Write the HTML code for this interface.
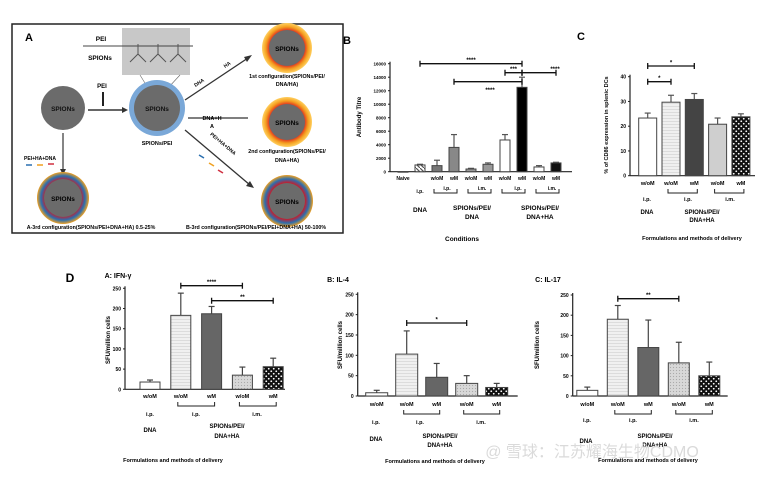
<!DOCTYPE html>
<html><head><meta charset="utf-8">
<style>
html,body{margin:0;padding:0;background:#fff}
svg{display:block;font-family:"Liberation Sans","Noto Sans CJK SC",sans-serif;font-weight:bold}
</style></head>
<body>
<svg id="fig" width="775" height="477" viewBox="0 0 775 477" xmlns="http://www.w3.org/2000/svg">
<defs>
<pattern id="pLines" width="4" height="3" patternUnits="userSpaceOnUse"><rect width="4" height="3" fill="#f0f0f0"/><line x1="0" y1="1.5" x2="4" y2="1.5" stroke="#cfcfcf" stroke-width="0.6"/></pattern>
<pattern id="pDots" width="3" height="3" patternUnits="userSpaceOnUse"><rect width="3" height="3" fill="#d8d8d8"/><circle cx="1.5" cy="1.5" r="0.6" fill="#aaa"/></pattern>
<pattern id="pCheck" width="5" height="5" patternUnits="userSpaceOnUse"><rect width="5" height="5" fill="#111"/><circle cx="1.25" cy="1.25" r="0.9" fill="#fff"/><circle cx="3.75" cy="3.75" r="0.9" fill="#fff"/></pattern>
<pattern id="pHatch" width="4" height="4" patternUnits="userSpaceOnUse"><rect width="4" height="4" fill="#fff"/><line x1="0" y1="0" x2="4" y2="4" stroke="#555" stroke-width="1.2"/></pattern>
<radialGradient id="gRed"><stop offset="0.7" stop-color="#e03020"/><stop offset="0.85" stop-color="#f5a020"/><stop offset="1" stop-color="#ffd060"/></radialGradient>
<radialGradient id="gMix"><stop offset="0.7" stop-color="#c02030"/><stop offset="0.85" stop-color="#2a6fb0"/><stop offset="1" stop-color="#f0a020"/></radialGradient>
</defs>

<g>
<rect x="12" y="24" width="331" height="209" fill="#fff" stroke="#222" stroke-width="1.5"/>
<text x="25" y="41" font-size="11">A</text>
<rect x="122" y="28" width="68" height="47" fill="#c8c8c8"/>
<line x1="83" y1="46" x2="193" y2="46" stroke="#444" stroke-width="1"/>
<text x="101" y="41" font-size="6.5" text-anchor="middle">PEI</text>
<text x="100" y="60" font-size="6.5" text-anchor="middle">SPIONs</text>
<g stroke="#555" stroke-width="1" fill="none"><path d="M130 62 l8-8 l8 8 M138 54 v-10 M150 62 l8-8 l8 8 M158 54 v-10 M170 62 l8-8 l8 8 M178 54 v-10"/></g>
<line x1="140" y1="75" x2="148" y2="88" stroke="#666" stroke-width="0.6"/><line x1="180" y1="75" x2="168" y2="88" stroke="#666" stroke-width="0.6"/>
<circle cx="63" cy="108" r="22" fill="#6b6b6b"/>
<text x="63" y="111" font-size="6.5" text-anchor="middle" fill="#111">SPIONs</text>
<line x1="88" y1="110" x2="124" y2="110" stroke="#333" stroke-width="1.5"/><polygon points="128,110 122,107 122,113" fill="#333"/>
<text x="102" y="88" font-size="6" text-anchor="middle">PEI</text>
<line x1="103" y1="92" x2="103" y2="106" stroke="#222" stroke-width="2"/>
<circle cx="157" cy="108" r="28" fill="#7aa8d8"/><circle cx="157" cy="108" r="23" fill="#6b6b6b"/>
<text x="157" y="111" font-size="6.5" text-anchor="middle" fill="#111">SPIONs</text>
<text x="157" y="145" font-size="5.5" text-anchor="middle">SPIONs/PEI</text>
<line x1="63" y1="133" x2="63" y2="170" stroke="#333" stroke-width="1.2"/><polygon points="63,175 60,169 66,169" fill="#333"/>
<text x="40" y="160" font-size="5" text-anchor="middle">PEI+HA+DNA</text>
<g stroke-width="1.5"><line x1="26" y1="165" x2="32" y2="165" stroke="#2a6fb0"/><line x1="37" y1="165" x2="43" y2="165" stroke="#f0a020"/><line x1="48" y1="164" x2="54" y2="164" stroke="#d03040"/></g>
<line x1="185" y1="100" x2="248" y2="58" stroke="#333" stroke-width="1.3"/><polygon points="252,55 244,57 247,62" fill="#333"/>
<text transform="translate(200,84) rotate(-33)" font-size="5" text-anchor="middle">DNA</text>
<text transform="translate(228,66) rotate(-33)" font-size="5" text-anchor="middle">HA</text>
<line x1="188" y1="118" x2="248" y2="118" stroke="#333" stroke-width="1.3"/>
<line x1="185" y1="130" x2="250" y2="185" stroke="#333" stroke-width="1.3"/><polygon points="254,188 246,186 250,181" fill="#333"/>
<text transform="translate(222,145) rotate(40)" font-size="5" text-anchor="middle">PEI+HA+DNA</text>
<g stroke-width="1.5"><line x1="199" y1="155" x2="204" y2="158" stroke="#2a6fb0"/><line x1="209" y1="163" x2="214" y2="166" stroke="#f0a020"/><line x1="218" y1="170" x2="223" y2="173" stroke="#d03040"/></g>
<text x="212" y="120" font-size="5.5" text-anchor="middle">DNA+H</text><text x="212" y="128" font-size="5.5" text-anchor="middle">A</text>
<circle cx="287" cy="48" r="25" fill="url(#gRed)"/><circle cx="287" cy="48" r="18" fill="#6b6b6b"/><text x="287" y="51" font-size="6.5" text-anchor="middle">SPIONs</text>
<text x="287" y="78" font-size="5.3" text-anchor="middle">1st configuration(SPIONs/PEI/</text><text x="287" y="86" font-size="5.3" text-anchor="middle">DNA/HA)</text>
<circle cx="287" cy="122" r="25" fill="url(#gRed)"/><circle cx="287" cy="122" r="18" fill="#6b6b6b"/><text x="287" y="125" font-size="6.5" text-anchor="middle">SPIONs</text>
<text x="287" y="153" font-size="5.3" text-anchor="middle">2nd configuration(SPIONs/PEI/</text><text x="287" y="162" font-size="5.3" text-anchor="middle">DNA+HA)</text>
<circle cx="287" cy="201" r="26" fill="url(#gMix)"/><circle cx="287" cy="201" r="18" fill="#6b6b6b"/><text x="287" y="204" font-size="6.5" text-anchor="middle">SPIONs</text>
<circle cx="63" cy="198" r="26" fill="url(#gMix)"/><circle cx="63" cy="198" r="19" fill="#6b6b6b"/><text x="63" y="201" font-size="6.5" text-anchor="middle">SPIONs</text>
<text x="91" y="229" font-size="5.3" text-anchor="middle">A-3rd configuration(SPIONs/PEI+DNA+HA) 0.5-25%</text>
<text x="256" y="229" font-size="5.3" text-anchor="middle">B-3rd configuration(SPIONs/PEI/PEI+DNA+HA) 50-100%</text>
</g>

<g id="charts"></g>
<text x="592" y="457" font-size="16" fill="#dadada" font-weight="normal" text-anchor="middle">@ 雪球：江苏耀海生物CDMO</text>
</svg>
<script>
// Panel B data
const bCats=["Naive","","w/oM","wM","w/oM","wM","w/oM","wM","w/oM","wM"];
const bVals=[0,1000,900,3600,400,1100,4700,12500,700,1300];
const bErr=[0,1100,1700,5500,500,1300,5500,14000,900,1400];
const bTicks=[0,2000,4000,6000,8000,10000,12000,14000,16000];
// Panel C data
const cCats=["w/oM","w/oM","wM","w/oM","wM"];
const cVals=[23.3,29.7,30.8,20.8,23.8];
const cErr=[25.3,32.5,33.2,23.3,25];
const cTicks=[0,10,20,30,40];
// Panel D data
const dCats=["w/oM","w/oM","wM","w/oM","wM"];
const ifnVals=[18,183,187,35,56];
const ifnErr=[23,238,205,55,77];
const il4Vals=[8,103,46,31,21];
const il4Err=[14,160,80,50,31];
const il17Vals=[14,190,120,82,50];
const il17Err=[22,224,188,133,84];
const dTicks=[0,50,100,150,200,250];

const NS="http://www.w3.org/2000/svg";
const root=document.getElementById('charts');
function el(tag,attrs,parent,text){const e=document.createElementNS(NS,tag);for(const k in attrs)e.setAttribute(k,attrs[k]);if(text!==undefined)e.textContent=text;(parent||root).appendChild(e);return e;}

function chart(o){
  const g=el('g',{});
  
  
  const y=v=>o.y0-(v/o.max)*(o.y0-o.yTop);
  const x=i=>o.x0+o.first+i*o.step;
  el('line',{x1:o.x0,y1:o.yTop-2,x2:o.x0,y2:o.y0,stroke:'#222','stroke-width':1.2},g);
  el('line',{x1:o.x0,y1:o.y0,x2:o.x0+o.w,y2:o.y0,stroke:'#222','stroke-width':1.2},g);
  o.ticks.forEach(t=>{
    el('line',{x1:o.x0-2,y1:y(t),x2:o.x0,y2:y(t),stroke:'#222','stroke-width':1},g);
    const tl=el('text',{x:o.x0-4,y:y(t)+2,'font-size':o.tfs||5,'text-anchor':'end'},g,t);
    
    
  });
  o.vals.forEach((v,i)=>{
    const cx=x(i),top=y(v),et=y(o.err[i]);
    if(o.err[i]>v){el('line',{x1:cx,y1:et,x2:cx,y2:top,stroke:o.errc||'#555','stroke-width':1.2},g);
      el('line',{x1:cx-3,y1:et,x2:cx+3,y2:et,stroke:o.errc||'#555','stroke-width':1.2},g);}
    const b=el('rect',{x:cx-o.bw/2,y:top,width:o.bw,height:Math.max(0.5,o.y0-top),fill:o.fills[i],stroke:'#444','stroke-width':1},g);
    
    
    const cl=el('text',{x:cx,y:o.labY,'font-size':o.lfs||5.5,'text-anchor':'middle'},g,o.cats[i]);
    
    
  });
  const yt=el('text',{transform:`translate(${o.ytx},${o.yty}) rotate(-90)`,'font-size':o.ytfs||6,'text-anchor':'middle'},g,o.ytitle);
  
  
  (o.sig||[]).forEach(s=>{
    const x1=x(s[0]),x2=x(s[1]),yy=s[2];
    el('path',{d:`M${x1} ${yy-3}V${yy+3}M${x1} ${yy}H${x2}M${x2} ${yy-3}V${yy+3}`,stroke:'#111','stroke-width':1.3,fill:'none'},g);
    el('text',{x:s[4]!==undefined?s[4]:(x1+x2)/2,y:s[5]!==undefined?s[5]:yy-1.5,'font-size':6,'text-anchor':'middle'},g,s[3]);
  });
  (o.brackets||[]).forEach(br=>{
    const x1=x(br[0])-3,x2=x(br[1])+3,yy=br[2];
    el('path',{d:`M${x1} ${yy-4}V${yy}H${x2}V${yy-4}`,stroke:'#222','stroke-width':1,fill:'none'},g);
  });
  (o.texts||[]).forEach(t=>el('text',{x:t[0],y:t[1],'font-size':t[3]||5.5,'text-anchor':'middle'},g,t[2]));
  root.appendChild(g);
}

chart({name:'panel-b-antibody-titre',x0:390,y0:171.7,yTop:63.7,max:16000,w:182,first:13,step:17,bw:10,
  vals:bVals,err:bErr,cats:bCats,ticks:bTicks,labY:180,lfs:5,tfs:4.5,
  fills:['#fff','url(#pHatch)','#777','#888','#999','#999','#fff','#000','#fff','#111'],
  ytitle:'Antibody Titre',ytx:361,yty:117,ytfs:6,
  sig:[[1,7,63.7,'****'],[6,7,72.7,'***'],[7,9,72.7,'****',555],[3,7,81.7,'****',490,92]],
  brackets:[[2,3,193],[4,5,193],[6,7,193],[8,9,193]],
  texts:[[420,193,'i.p.',5],[447,190,'i.p.',5],[482,190,'i.m.',5],[518,190,'i.p.',5],[552,190,'i.m.',5],
    [420,212,'DNA',6.5],[472,210,'SPIONs/PEI/',6.5],[472,219,'DNA',6.5],[540,210,'SPIONs/PEI/',6.5],[540,219,'DNA+HA',6.5],
    [462,241,'Conditions',6.5],[347,44,'B',11]]});
chart({name:'panel-c-cd86',x0:630,y0:175.7,yTop:76.7,max:40,w:125,first:17.7,step:23.3,bw:18,
  vals:cVals,err:cErr,cats:cCats,ticks:cTicks,labY:185,tfs:5,
  fills:['#fff','url(#pLines)','#444','#cfcfcf','url(#pCheck)'],
  ytitle:'% of CD86 expression in splenic DCs',ytx:608,yty:125,ytfs:5.5,
  sig:[[0,2,66,'*'],[0,1,81.7,'*']],
  brackets:[[1,2,193],[3,4,193]],
  texts:[[647,201,'i.p.'],[688,201,'i.p.'],[730,201,'i.m.'],[647,214,'DNA',6],[702,214,'SPIONs/PEI/',6],[702,222,'DNA+HA',6],
    [692,240,'Formulations and methods of delivery',5.5],[581,40,'C',11]]});
const dFills=['#fff','url(#pLines)','#666','url(#pDots)','url(#pCheck)'];
chart({name:'panel-d-ifn-gamma',x0:125,y0:389.3,yTop:288.3,max:250,w:160,first:25,step:30.8,bw:20,
  vals:ifnVals,err:ifnErr,cats:dCats,ticks:dTicks,labY:398,fills:dFills,errc:'#444',
  ytitle:'SFU/million cells',ytx:110,yty:340,
  sig:[[1,3,285.7,'****'],[2,4,300.7,'**']],brackets:[[1,2,406],[3,4,406]],
  texts:[[150,416,'i.p.'],[196,416,'i.p.'],[257,416,'i.m.'],[150,432,'DNA',6],[227,428,'SPIONs/PEI/',6],[227,438,'DNA+HA',6],
    [173,462,'Formulations and methods of delivery',5.5],[70,282,'D',12],[118,278,'A: IFN-γ',7]]});
chart({name:'panel-d-il4',x0:357.7,y0:396,yTop:294.3,max:250,w:160,first:19,step:30,bw:22,
  vals:il4Vals,err:il4Err,cats:dCats,ticks:dTicks,labY:406,fills:dFills,errc:'#444',
  ytitle:'SFU/million cells',ytx:342,yty:345,
  sig:[[1,3,323,'*']],brackets:[[1,2,414],[3,4,414]],
  texts:[[376,424,'i.p.'],[420,424,'i.p.'],[481,424,'i.m.'],[376,441,'DNA',6],[440,438,'SPIONs/PEI/',6],[440,447,'DNA+HA',6],
    [435,463,'Formulations and methods of delivery',5.5],[338,282,'B: IL-4',7]]});
chart({name:'panel-d-il17',x0:572.7,y0:396,yTop:295,max:250,w:155,first:14.6,step:30.5,bw:21,
  vals:il17Vals,err:il17Err,cats:dCats,ticks:dTicks,labY:406,fills:dFills,errc:'#444',
  ytitle:'SFU/million cells',ytx:539,yty:345,
  sig:[[1,3,298.7,'**']],brackets:[[1,2,414],[3,4,414]],
  texts:[[587,422,'i.p.'],[633,422,'i.p.'],[694,422,'i.m.'],[586,443,'DNA',6],[655,438,'SPIONs/PEI/',6],[655,447,'DNA+HA',6],
    [648,462,'Formulations and methods of delivery',5.5],[548,282,'C: IL-17',7]]});
</script>
</body></html>
